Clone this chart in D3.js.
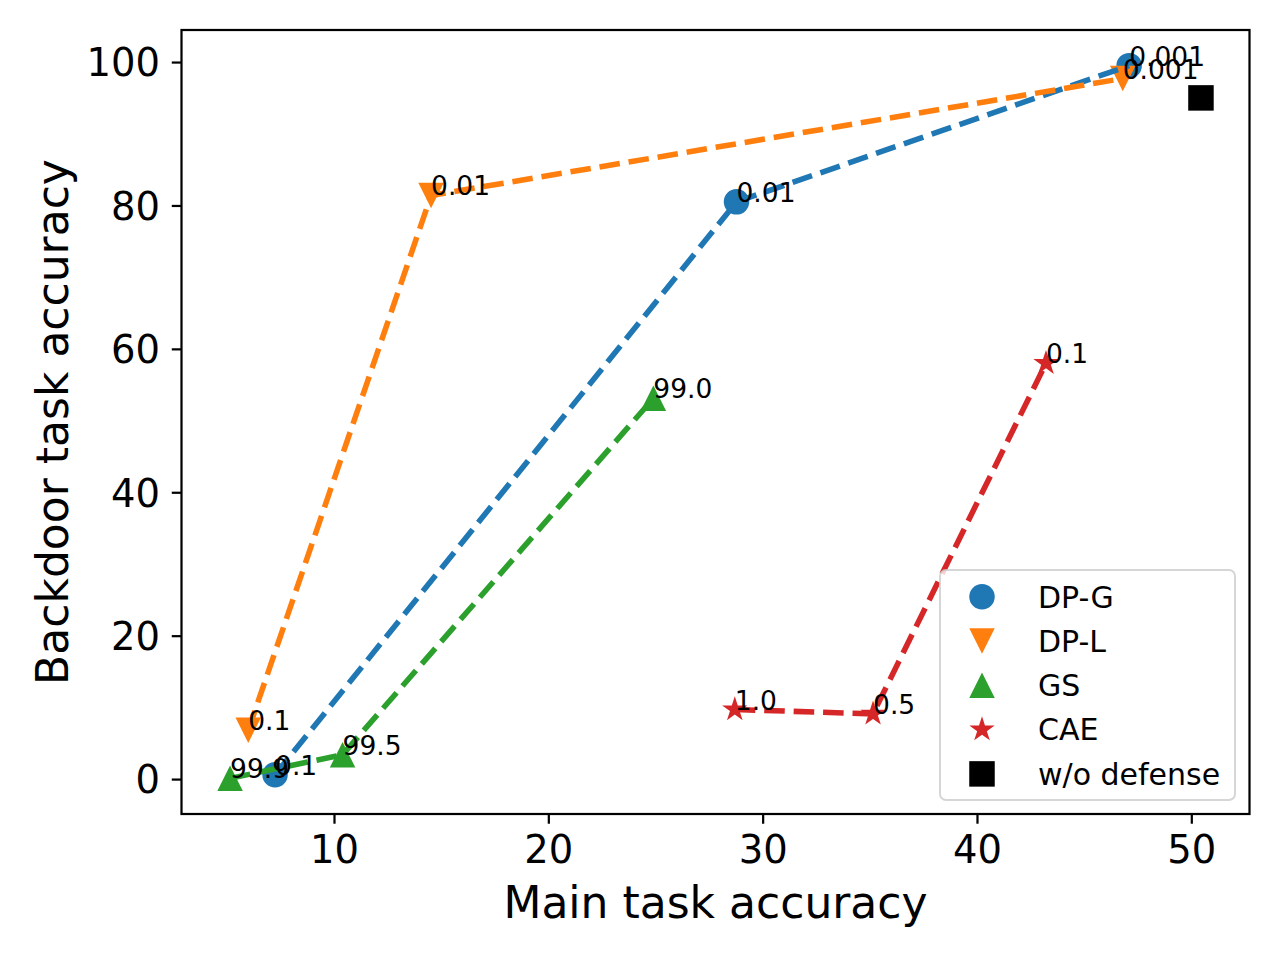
<!DOCTYPE html>
<html>
<head>
<meta charset="utf-8">
<script src="https://cdn.jsdelivr.net/npm/d3@7"></script>
<style>
  body { margin: 0; background: #fff; }
  svg { display: block; font-family: "DejaVu Sans", sans-serif; }
</style>
</head>
<body>
<svg id="chart" width="1280" height="960"></svg>
<script>
// data
var methods = ["DP-G", "DP-L", "GS", "CAE", "w/o defense"];
var colors = ["#1f77b4", "#ff7f0e", "#2ca02c", "#d62728", "#000000"];
var shapes = ["circle", "triangleDown", "triangleUp", "star", "square"];

var dpgX = [7.25, 28.78, 47.1];
var dpgY = [0.6, 80.5, 99.5];
var dpgLabels = ["0.1", "0.01", "0.001"];

var dplX = [6.0, 14.53, 46.8];
var dplY = [6.8, 81.4, 97.7];
var dplLabels = ["0.1", "0.01", "0.001"];

var gsX = [5.15, 10.4, 24.9];
var gsY = [0.1, 3.4, 53.1];
var gsLabels = ["99.9", "99.5", "99.0"];

var caeX = [28.7, 35.15, 43.22];
var caeY = [9.7, 9.1, 58.0];
var caeLabels = ["1.0", "0.5", "0.1"];

var noDefX = [50.45];
var noDefY = [95.0];

var xTicks = [10, 20, 30, 40, 50];
var yTicks = [0, 20, 40, 60, 80, 100];

var series = [
    {x: dpgX, y: dpgY, labels: dpgLabels, line: true},
    {x: dplX, y: dplY, labels: dplLabels, line: true},
    {x: gsX, y: gsY, labels: gsLabels, line: true},
    {x: caeX, y: caeY, labels: caeLabels, line: true},
    {x: noDefX, y: noDefY, labels: [], line: false}
];

//Plot box (pixels)
var boxL = 181.5, boxR = 1249.5, boxT = 30, boxB = 814;
var pt = 200 / 72;

var svg = d3.select("#chart");

//5% margins around the data, like the original
var allX = d3.merge(series.map(function(s) { return s.x; }));
var allY = d3.merge(series.map(function(s) { return s.y; }));
var xr = d3.extent(allX), yr = d3.extent(allY);
var xPad = (xr[1] - xr[0]) * 0.05, yPad = (yr[1] - yr[0]) * 0.05;

var x = d3.scaleLinear().domain([xr[0] - xPad, xr[1] + xPad]).range([boxL, boxR]);
var y = d3.scaleLinear().domain([yr[0] - yPad, yr[1] + yPad]).range([boxB, boxT]);

//Marker outlines, all about 25px across
var mSize = 25.5;
function markerPath(shape) {
    var h = mSize / 2;
    if (shape == "circle") {
        return d3.symbol(d3.symbolCircle, Math.PI * h * h)();
    }
    if (shape == "square") {
        return "M" + (-h) + "," + (-h) + "H" + h + "V" + h + "H" + (-h) + "Z";
    }
    if (shape == "triangleUp") {
        return "M0," + (-h) + "L" + h + "," + h + "L" + (-h) + "," + h + "Z";
    }
    if (shape == "triangleDown") {
        return "M0," + h + "L" + h + "," + (-h) + "L" + (-h) + "," + (-h) + "Z";
    }
    //star
    var R = 13.3, r = R * 0.381966, d = "";
    for (var i = 0; i < 10; i++) {
        var rad = (i % 2 == 0) ? R : r;
        var a = Math.PI / 5 * i;
        d += (i == 0 ? "M" : "L") + (rad * Math.sin(a)).toFixed(2) + "," + (-rad * Math.cos(a)).toFixed(2);
    }
    return d + "Z";
}

//Axes
var xAxis = svg.append("g")
    .attr("transform", "translate(0," + boxB + ")")
    .call(d3.axisBottom(x).tickValues(xTicks).tickSize(3.5 * pt).tickPadding(3.5 * pt));
var yAxis = svg.append("g")
    .attr("transform", "translate(" + boxL + ",0)")
    .call(d3.axisLeft(y).tickValues(yTicks).tickSize(3.5 * pt).tickPadding(3.5 * pt + 2));

[xAxis, yAxis].forEach(function(ax) {
    ax.select(".domain").remove();
    ax.selectAll(".tick line").attr("stroke", "#000").attr("stroke-width", 0.8 * pt);
    ax.selectAll(".tick text")
        .attr("fill", "#000")
        .attr("font-family", "DejaVu Sans")
        .attr("font-size", 38.5);
});
xAxis.selectAll(".tick text").attr("dy", "0.76em");
yAxis.selectAll(".tick text").attr("dy", "0.36em");

//Markers first, lines over them, labels on top
var plot = svg.append("g");

series.forEach(function(s, i) {
    plot.append("g").selectAll("path")
        .data(s.x)
        .enter().append("path")
        .attr("transform", function(d, j) { return "translate(" + x(d) + "," + y(s.y[j]) + ")"; })
        .attr("d", markerPath(shapes[i]))
        .attr("fill", colors[i]);
});

var line = d3.line()
    .x(function(d) { return x(d[0]); })
    .y(function(d) { return y(d[1]); });

series.forEach(function(s, i) {
    if (!s.line) return;
    plot.append("path")
        .attr("d", line(d3.zip(s.x, s.y)))
        .attr("fill", "none")
        .attr("stroke", colors[i])
        .attr("stroke-width", 2 * pt)
        .attr("stroke-dasharray", (3.7 * 2 * pt) + "," + (1.6 * 2 * pt));
});

series.forEach(function(s, i) {
    plot.append("g").selectAll("text")
        .data(s.labels)
        .enter().append("text")
        .attr("x", function(d, j) { return x(s.x[j]); })
        .attr("y", function(d, j) { return y(s.y[j]); })
        .attr("font-size", 26.5)
        .attr("fill", "#000")
        .text(function(d) { return d; });
});

//Frame
svg.append("rect")
    .attr("x", boxL).attr("y", boxT)
    .attr("width", boxR - boxL).attr("height", boxB - boxT)
    .attr("fill", "none")
    .attr("stroke", "#000")
    .attr("stroke-width", 0.8 * pt);

//Axis titles
svg.append("text")
    .attr("x", (boxL + boxR) / 2)
    .attr("y", 918)
    .attr("text-anchor", "middle")
    .attr("font-size", 44)
    .text("Main task accuracy");

svg.append("text")
    .attr("transform", "translate(68," + (boxT + boxB) / 2 + ")rotate(-90)")
    .attr("text-anchor", "middle")
    .attr("font-size", 44)
    .text("Backdoor task accuracy");

//Legend, lower right
var legW = 295, legH = 230, rowH = 44.3;
var legend = svg.append("g")
    .attr("transform", "translate(" + (boxR - 14.5 - legW) + "," + (boxB - 14 - legH) + ")");

legend.append("rect")
    .attr("width", legW).attr("height", legH)
    .attr("rx", 6).attr("ry", 6)
    .attr("fill", "#fff").attr("fill-opacity", 0.8)
    .attr("stroke", "#cccccc").attr("stroke-opacity", 0.8)
    .attr("stroke-width", 2);

var rows = legend.selectAll("g.row")
    .data(methods)
    .enter().append("g")
    .attr("class", "row")
    .attr("transform", function(d, i) { return "translate(0," + (26.7 + i * rowH) + ")"; });

rows.append("path")
    .attr("transform", "translate(42,0)")
    .attr("d", function(d, i) { return markerPath(shapes[i]); })
    .attr("fill", function(d, i) { return colors[i]; });

rows.append("text")
    .attr("x", 98)
    .attr("dy", "0.36em")
    .attr("font-size", 30)
    .text(function(d) { return d; });
</script>
</body>
</html>
